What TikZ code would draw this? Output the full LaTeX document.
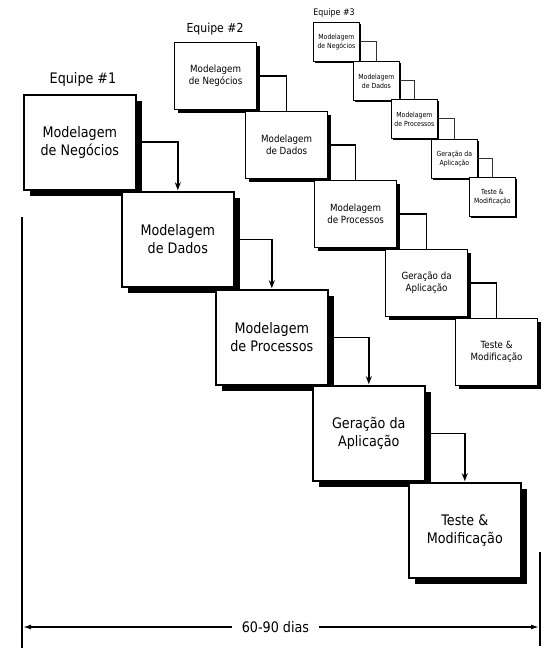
\documentclass[tikz,border=0pt]{standalone}
\usepackage{fontspec}
\usetikzlibrary{arrows.meta,shadows}
\newfontfamily\tah[FakeStretch=0.88]{DejaVu Sans}
\tikzset{
  boxbase/.style={draw=black, fill=white, inner sep=0pt, align=center, anchor=north west},
  tonebox/.style={boxbase, line width=1.6pt, minimum width=112pt, minimum height=95pt,
    font=\tah\fontsize{14.5}{17.5}\selectfont,
    drop shadow={shadow xshift=6pt, shadow yshift=-6pt, opacity=1, fill=black}},
  ttwobox/.style={boxbase, line width=1.2pt, minimum width=82pt, minimum height=67pt,
    font=\tah\fontsize{9.9}{12}\selectfont,
    drop shadow={shadow xshift=3.5pt, shadow yshift=-3.5pt, opacity=1, fill=black}},
  tthreebox/.style={boxbase, line width=0.8pt, minimum width=46pt, minimum height=39pt,
    font=\tah\fontsize{7}{9}\selectfont,
    drop shadow={shadow xshift=2pt, shadow yshift=-2pt, opacity=1, fill=black}},
  toneline/.style={line width=1.6pt, -{Stealth[length=8pt,width=6pt]}, shorten >=0.8pt},
  ttwoline/.style={line width=1.3pt},
  tthreeline/.style={line width=0.8pt, draw=black!80},
  teamlabel/.style={inner sep=0pt},
  dimline/.style={line width=1.8pt},
  dimarrow/.style={line width=1.4pt, -{Latex[length=8pt,width=5pt]}},
}
\begin{document}
\begin{tikzpicture}[x=1pt,y=-1pt]
\useasboundingbox (0,0) rectangle (556,660);

% ---------- Team 3 ----------
\node[teamlabel, font=\tah\fontsize{9}{11}\selectfont] (e3) at (334,13) {Equipe \#3};
\node[tthreebox] (c1) at (313,22) {Modelagem\\de Negócios};
\node[tthreebox] (c2) at (353,61) {Modelagem\\de Dados};
\node[tthreebox] (c3) at (391,99) {Modelagem\\de Processos};
\node[tthreebox] (c4) at (431,139) {Geração da\\Aplicação};
\node[tthreebox] (c5) at (469,177) {Teste \&\\Modificação};
\draw[tthreeline] (c1.east) -| (c2.north);
\draw[tthreeline] (c2.east) -| (c3.north);
\draw[tthreeline] (c3.east) -| (c4.north);
\draw[tthreeline] (c4.east) -| (c5.north);

% ---------- Team 2 ----------
\node[teamlabel, font=\tah\fontsize{12.4}{14}\selectfont] (e2) at (215,29) {Equipe \#2};
\node[ttwobox] (b1) at (174,42) {Modelagem\\de Negócios};
\node[ttwobox] (b2) at (245,111) {Modelagem\\de Dados};
\node[ttwobox] (b3) at (314,180) {Modelagem\\de Processos};
\node[ttwobox] (b4) at (385,249) {Geração da\\Aplicação};
\node[ttwobox] (b5) at (455,318) {Teste \&\\Modificação};
\draw[ttwoline] (b1.east) -| (b2.north);
\draw[ttwoline] (b2.east) -| (b3.north);
\draw[ttwoline] (b3.east) -| (b4.north);
\draw[ttwoline] (b4.east) -| (b5.north);

% ---------- Team 1 ----------
\node[teamlabel, font=\tah\fontsize{14.5}{17}\selectfont] (e1) at (83,80) {Equipe \#1};
\node[tonebox] (a1) at (23,94) {Modelagem\\de Negócios};
\node[tonebox] (a2) at (121,191) {Modelagem\\de Dados};
\node[tonebox] (a3) at (215,289) {Modelagem\\de Processos};
\node[tonebox] (a4) at (312,385) {Geração da\\Aplicação};
\node[tonebox] (a5) at (408,482) {Teste \&\\Modificação};
\draw[toneline] (a1.east) -| (a2.north);
\draw[toneline] (a2.east) -| (a3.north);
\draw[toneline] (a3.east) -| (a4.north);
\draw[toneline] (a4.east) -| (a5.north);

% ---------- Dimension ----------
\coordinate (lt) at (22,217);
\coordinate (lb) at (22,648);
\coordinate (rt) at (540,552);
\coordinate (rb) at (540,646);
\coordinate (la) at (23,627);
\coordinate (ra) at (539,627);
\draw[dimline] (lt) -- (lb);
\draw[dimline] (rt) -- (rb);
\node[inner xsep=10pt, inner ysep=2pt, fill=white, font=\tah\fontsize{14.5}{17}\selectfont] (dim) at (275.5,627) {60-90 dias};
\draw[dimarrow] (dim.west) -- (la);
\draw[dimarrow] (dim.east) -- (ra);
\end{tikzpicture}
\end{document}
